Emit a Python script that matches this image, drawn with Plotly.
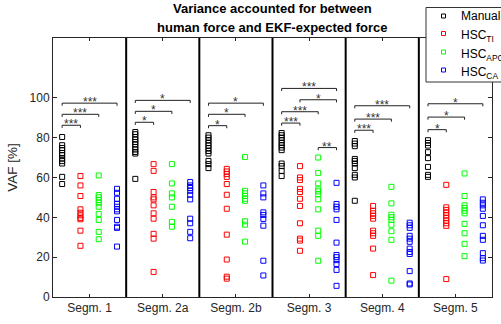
import plotly.graph_objects as go

segments = ["Segm. 1", "Segm. 2a", "Segm. 2b", "Segm. 3", "Segm. 4", "Segm. 5"]
group_names = ["Manual", "HSC<sub>TI</sub>", "HSC<sub>APO</sub>", "HSC<sub>CA</sub>"]
group_colors = ["#000000", "#ff0000", "#00ff00", "#0000ff"]
group_offsets = [-0.375, -0.125, 0.125, 0.375]

manual = [
    [80.3, 76.2, 74.8, 73.7, 72.3, 71.2, 69.5, 68.2, 67.0, 60.3, 56.7],
    [82.8, 81.7, 80.3, 79.0, 77.8, 76.7, 75.3, 74.0, 72.8, 72.0, 59.3],
    [81.2, 80.0, 78.7, 77.3, 76.0, 74.7, 73.3, 72.0, 68.3, 66.7, 64.7],
    [82.3, 81.2, 80.0, 78.7, 77.3, 76.2, 75.0, 73.7, 67.0, 65.7, 63.3, 60.7],
    [78.3, 77.0, 75.7, 69.3, 68.3, 67.0, 64.7, 61.3, 60.0, 48.3],
    [78.7, 77.3, 76.0, 72.7, 69.7, 65.3, 61.3, 60.3],
]
hsc_ti = [
    [60.7, 56.0, 50.7, 44.0, 42.3, 41.0, 39.7, 39.0, 33.3, 25.7],
    [66.7, 63.3, 52.7, 50.0, 49.0, 46.0, 42.0, 39.3, 31.7, 29.3, 12.6],
    [64.3, 63.0, 61.7, 60.3, 56.7, 51.3, 44.3, 31.3, 18.8, 10.2, 9.2],
    [65.7, 60.0, 58.7, 54.3, 52.7, 49.3, 45.7, 37.0, 29.3, 28.3, 23.2],
    [45.7, 43.3, 42.0, 40.7, 39.3, 33.3, 32.0, 30.7, 24.3, 11.0],
    [56.3, 45.0, 43.7, 42.3, 41.0, 39.7, 38.3, 37.0, 35.7, 9.0],
]
hsc_apo = [
    [61.0, 51.2, 50.0, 48.7, 47.3, 45.3, 41.7, 38.7, 32.7, 29.0],
    [66.7, 57.0, 52.0, 50.0, 45.3, 37.7, 35.3],
    [70.3, 53.3, 52.0, 50.7, 49.3, 48.3, 38.0, 36.3, 27.8],
    [70.0, 62.3, 57.0, 54.0, 53.0, 51.7, 49.0, 44.0, 33.3, 30.7, 18.2],
    [55.3, 47.0, 41.3, 40.0, 38.7, 36.3, 33.0, 28.7, 8.2],
    [62.0, 50.7, 46.0, 44.7, 43.3, 42.0, 36.7, 32.0, 26.7, 20.5],
]
hsc_ca = [
    [54.3, 52.3, 49.3, 46.7, 45.3, 44.0, 43.0, 38.7, 35.3, 34.7, 25.3],
    [57.7, 56.0, 54.7, 53.3, 51.3, 49.0, 39.3, 37.0, 32.7, 29.5],
    [56.0, 52.0, 50.0, 42.5, 41.2, 39.2, 35.8, 18.2, 10.8],
    [57.3, 46.7, 45.3, 44.0, 38.7, 27.3, 21.1, 20.0, 18.5, 16.6, 13.6, 5.6],
    [37.3, 36.0, 34.7, 30.7, 29.3, 27.7, 24.3, 22.6, 21.6, 13.0, 6.8, 6.3],
    [49.0, 47.3, 46.0, 44.3, 40.7, 36.0, 30.7, 28.7, 22.0, 19.5, 18.3],
]
groups = [manual, hsc_ti, hsc_apo, hsc_ca]

# significance brackets: (segment index, group a, group b, level, label)
brackets = [
    (0, 0, 1, 86.2, "***"), (0, 0, 2, 91.7, "***"), (0, 0, 3, 97.3, "***"),
    (1, 0, 1, 87.7, "*"), (1, 0, 2, 93.2, "*"), (1, 0, 3, 98.7, "*"),
    (2, 0, 1, 86.0, "*"), (2, 0, 2, 91.7, "*"), (2, 0, 3, 97.3, "*"),
    (3, 0, 1, 87.3, "***"), (3, 0, 2, 93.0, "***"), (3, 1, 3, 99.0, "*"),
    (3, 0, 3, 104.7, "***"), (3, 2, 3, 75.0, "**"),
    (4, 0, 1, 83.7, "***"), (4, 0, 2, 89.3, "***"), (4, 0, 3, 96.0, "***"),
    (5, 0, 1, 84.0, "*"), (5, 0, 2, 90.3, "*"), (5, 0, 3, 97.0, "*"),
]

y_ticks = [0, 20, 40, 60, 80, 100]
title_lines = ["Variance accounted for between", "human force and EKF-expected force"]
FONT = "Arial, Liberation Sans, sans-serif"
AXC = "#262626"

W, H = 501, 324
ML, MR, MT, MB = 53, 9, 38, 27
PW, PH = W - ML - MR, H - MT - MB


def px(xp):
    return (xp - ML) / PW


def py(yp):
    return (H - MB - yp) / PH


fig = go.Figure()

for g, (name, col, off, data) in enumerate(zip(group_names, group_colors, group_offsets, groups)):
    xs, ys = [], []
    for s, vals in enumerate(data):
        xs += [s + 1 + off] * len(vals)
        ys += vals
    fig.add_trace(go.Scatter(
        x=xs, y=ys, mode="markers", name=name, showlegend=False,
        marker=dict(symbol="square-open", size=5, color=col, line=dict(width=1, color=col)),
    ))

tick_len = 1.3
annotations = []
for s, a, b, lvl, lab in brackets:
    x1 = s + 1 + group_offsets[a]
    x2 = s + 1 + group_offsets[b]
    fig.add_trace(go.Scatter(
        x=[x1, x1, x2, x2], y=[lvl - tick_len, lvl, lvl, lvl - tick_len],
        mode="lines", line=dict(color="#222222", width=1), showlegend=False, hoverinfo="skip",
    ))
    annotations.append(dict(x=(x1 + x2) / 2, y=lvl, text=lab, showarrow=False,
                            xanchor="center", yanchor="middle", yshift=1,
                            font=dict(family=FONT, size=12, color="#333333")))

shapes = []
# segment separators
for s in range(1, len(segments)):
    shapes.append(dict(type="line", x0=s + 0.5, x1=s + 0.5, y0=0, y1=1, xref="x", yref="paper",
                       line=dict(color="#000000", width=2)))

# title (two centred bold lines)
for i, line in enumerate(title_lines):
    annotations.append(dict(text="<b>" + line + "</b>", x=px(272), y=py(8.5 + 18.5 * i),
                            xref="paper", yref="paper", showarrow=False,
                            xanchor="center", yanchor="middle",
                            font=dict(family=FONT, size=13, color="#000000")))

# legend box (extends past the right edge, as in the reference)
shapes.append(dict(type="rect", xref="paper", yref="paper", x0=px(426), x1=px(520),
                   y0=py(82), y1=py(7.5), line=dict(color="#333333", width=1),
                   fillcolor="white", layer="above"))
leg_y = [16, 33.5, 52, 70]
for name, col, yy in zip(group_names, group_colors, leg_y):
    shapes.append(dict(type="rect", xref="paper", yref="paper", x0=px(441.5), x1=px(445.5),
                       y0=py(yy + 2), y1=py(yy - 2), line=dict(color=col, width=1),
                       fillcolor="white", layer="above"))
    sub = "<sub>" in name
    annotations.append(dict(text=name, x=px(458.5), y=py(yy + (3 if sub else 0)),
                            xref="paper", yref="paper", showarrow=False,
                            xanchor="left", yanchor="middle",
                            font=dict(family=FONT, size=12, color="#000000")))

fig.update_layout(
    width=W, height=H,
    margin=dict(l=ML, r=MR, t=MT, b=MB),
    paper_bgcolor="white", plot_bgcolor="white",
    font=dict(family=FONT, size=12, color=AXC),
    showlegend=False,
    shapes=shapes,
    annotations=annotations,
)

fig.update_xaxes(
    range=[0.5, 6.5], tickmode="array", tickvals=list(range(1, 7)), ticktext=segments,
    ticks="inside", ticklen=3, tickcolor=AXC, showline=True, linecolor=AXC, linewidth=1,
    mirror="ticks", showgrid=False, zeroline=False, tickfont=dict(size=12, color=AXC),
)
fig.update_yaxes(
    range=[0, 130], tickmode="array", tickvals=y_ticks, ticks="inside", ticklen=4, tickcolor=AXC,
    showline=True, linecolor=AXC, linewidth=1, mirror="ticks", showgrid=False, zeroline=False,
    title=dict(text="VAF [%]", font=dict(size=13.5, color=AXC), standoff=8),
    tickfont=dict(size=12, color=AXC),
)

fig.write_html("out.html")
